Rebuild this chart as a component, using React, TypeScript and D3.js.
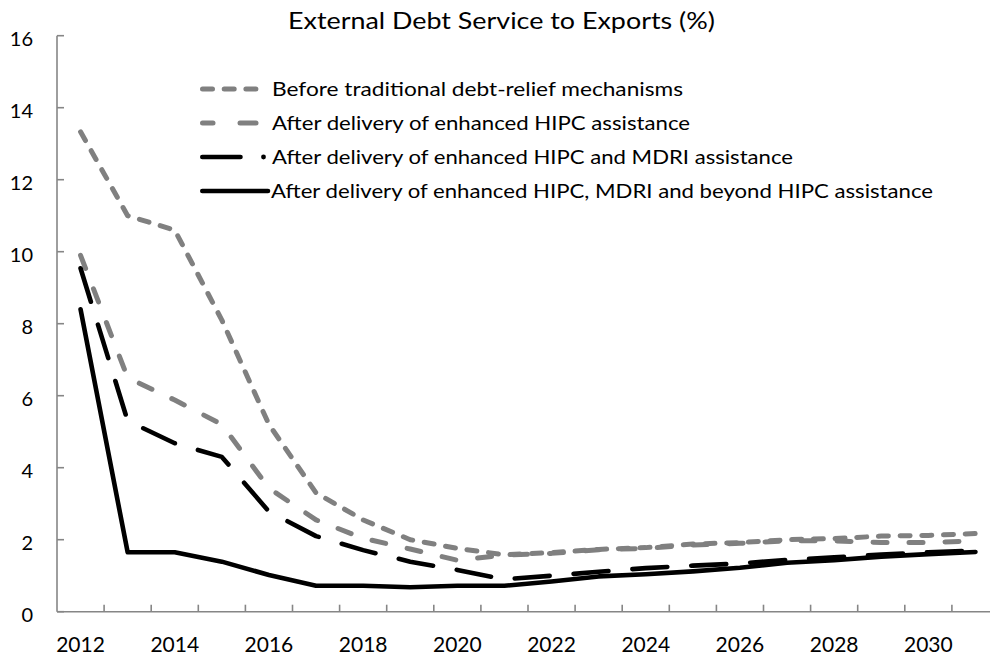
import React from "react";
import * as d3 from "d3";

const years = [2012, 2013, 2014, 2015, 2016, 2017, 2018, 2019, 2020, 2021, 2022, 2023, 2024, 2025, 2026, 2027, 2028, 2029, 2030, 2031];
const beforeTraditional = [13.33, 11.0, 10.6, 8.1, 5.2, 3.3, 2.55, 2.0, 1.76, 1.58, 1.64, 1.73, 1.78, 1.88, 1.92, 2.0, 2.03, 2.1, 2.12, 2.17];
const afterHIPC = [9.9, 6.5, 5.88, 5.2, 3.43, 2.55, 2.04, 1.74, 1.43, 1.57, 1.62, 1.72, 1.76, 1.85, 1.9, 1.97, 1.97, 1.92, 1.92, 1.97];
const afterHIPCMDRI = [9.54, 5.3, 4.68, 4.3, 2.78, 2.1, 1.71, 1.39, 1.16, 0.9, 1.0, 1.11, 1.21, 1.28, 1.34, 1.44, 1.51, 1.59, 1.65, 1.7];
const afterBeyond = [8.4, 1.65, 1.65, 1.39, 1.02, 0.72, 0.72, 0.68, 0.72, 0.72, 0.84, 0.98, 1.04, 1.12, 1.22, 1.36, 1.43, 1.53, 1.6, 1.66];
const yTicks = [0, 2, 4, 6, 8, 10, 12, 14, 16];
const xLabelYears = [2012, 2014, 2016, 2018, 2020, 2022, 2024, 2026, 2028, 2030];
const legendLabels = [
  "Before traditional debt-relief mechanisms",
  "After delivery of enhanced HIPC assistance",
  "After delivery of enhanced HIPC and MDRI assistance",
  "After delivery of enhanced HIPC, MDRI and beyond HIPC assistance",
];
const title = "External Debt Service to Exports (%)";

const FONT = "Lato, 'Open Sans', sans-serif";

export default function App() {
  const x = d3.scaleBand<number>().domain(years).range([57, 57 + 20 * 47.1]).padding(0);
  const y = d3.scaleLinear().domain([0, 16]).range([611.7, 35.7]);
  const cx = (yr: number) => (x(yr) as number) + x.bandwidth() / 2;
  const line = d3
    .line<number>()
    .x((_, i) => cx(years[i]))
    .y((v) => y(v));

  const series = [
    { data: beforeTraditional, color: "#808080", width: 5, dash: "10 11.7" },
    { data: afterHIPC, color: "#808080", width: 5, dash: "14 22" },
    { data: afterHIPCMDRI, color: "#000000", width: 4.6, dash: "35 24" },
    { data: afterBeyond, color: "#000000", width: 4.6, dash: "" },
  ];
  const legendWidths = [411, 418, 521, 662];
  const legendBase = [96, 130, 164, 198];
  const axisColor = "#868686";

  return (
    <svg width={990} height={656} style={{ position: "absolute", left: 0, top: 0, background: "#fff" }}>
      <rect x={0} y={0} width={990} height={656} fill="#fff" />
      <text x={501.5} y={29} textAnchor="middle" fontFamily={FONT} fontSize={23} textLength={427} lengthAdjust="spacingAndGlyphs" fill="#000">
        {title}
      </text>
      {/* y axis */}
      <line x1={57} x2={57} y1={y(16)} y2={y(0)} stroke={axisColor} strokeWidth={1.6} />
      {yTicks.map((t) => (
        <g key={t}>
          <line x1={57} x2={64} y1={y(t)} y2={y(t)} stroke={axisColor} strokeWidth={1.6} />
          <text x={33} y={y(t) + 2.5} textAnchor="end" dominantBaseline="central" fontFamily={FONT} fontSize={20} fill="#000">
            {t}
          </text>
        </g>
      ))}
      {/* x axis */}
      <line x1={57} x2={1000} y1={y(0)} y2={y(0)} stroke={axisColor} strokeWidth={1.6} />
      {years.slice(1).map((yr) => (
        <line key={yr} x1={x(yr) as number} x2={x(yr) as number} y1={y(0)} y2={y(0) - 7} stroke={axisColor} strokeWidth={1.6} />
      ))}
      <line x1={x(2031)! + x.bandwidth()} x2={x(2031)! + x.bandwidth()} y1={y(0)} y2={y(0) - 7} stroke={axisColor} strokeWidth={1.6} />
      {xLabelYears.map((yr) => (
        <text key={yr} x={cx(yr)} y={651.5} textAnchor="middle" fontFamily={FONT} fontSize={21} fill="#000">
          {yr}
        </text>
      ))}
      {/* series */}
      {series.map((s, i) => (
        <path
          key={i}
          d={line(s.data) || ""}
          fill="none"
          stroke={s.color}
          strokeWidth={s.width}
          strokeDasharray={s.dash || undefined}
          strokeLinecap="round"
          strokeLinejoin="round"
        />
      ))}
      {/* legend */}
      {legendLabels.map((lab, i) => {
        const ly = legendBase[i] - 7;
        const s = series[i];
        let sample;
        if (i === 0) {
          sample = <line x1={202.5} x2={258} y1={ly} y2={ly} stroke={s.color} strokeWidth={s.width} strokeDasharray="10 11.7" strokeLinecap="round" />;
        } else if (i === 1) {
          sample = (
            <g>
              <line x1={202.5} x2={213} y1={ly} y2={ly} stroke={s.color} strokeWidth={s.width} strokeLinecap="round" />
              <line x1={240} x2={256} y1={ly} y2={ly} stroke={s.color} strokeWidth={s.width} strokeLinecap="round" />
            </g>
          );
        } else if (i === 2) {
          sample = (
            <g>
              <line x1={202.3} x2={240.5} y1={ly} y2={ly} stroke={s.color} strokeWidth={s.width} strokeLinecap="round" />
              <circle cx={263.5} cy={ly} r={2.4} fill={s.color} />
            </g>
          );
        } else {
          sample = <line x1={202.3} x2={268} y1={ly} y2={ly} stroke={s.color} strokeWidth={s.width} strokeLinecap="round" />;
        }
        return (
          <g key={i}>
            {sample}
            <text x={i === 3 ? 271 : 272} y={legendBase[i]} fontFamily={FONT} fontSize={20} textLength={legendWidths[i]} lengthAdjust="spacingAndGlyphs" fill="#000">
              {lab}
            </text>
          </g>
        );
      })}
    </svg>
  );
}
